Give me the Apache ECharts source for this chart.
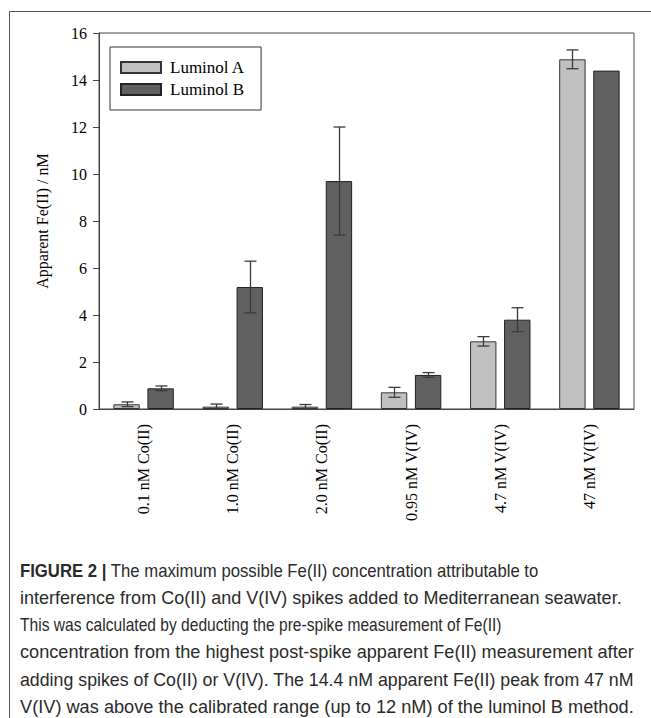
<!DOCTYPE html>
<html>
<head>
<meta charset="utf-8">
<style>
  html, body { margin: 0; padding: 0; background: #fff; }
  #chart { width: 651px; height: 718px; }
</style>
<script src="https://cdn.jsdelivr.net/npm/echarts@6/dist/echarts.min.js"></script>
</head>
<body>
<div id="chart"></div>
<script>
const categories = ['0.1 nM Co(II)', '1.0 nM Co(II)', '2.0 nM Co(II)', '0.95 nM V(IV)', '4.7 nM V(IV)', '47 nM V(IV)'];
const seriesNames = ['Luminol A', 'Luminol B'];
const luminolA = [0.20, 0.10, 0.10, 0.71, 2.88, 14.88];
const luminolAErr = [0.10, 0.11, 0.09, 0.21, 0.20, 0.40];
const luminolB = [0.88, 5.19, 9.70, 1.45, 3.80, 14.4];
const luminolBErr = [0.10, 1.10, 2.30, 0.10, 0.51, 0];
const yTicks = { min: 0, max: 16, interval: 2 };
const yAxisName = 'Apparent Fe(II) / nM';
const captionLabel = 'FIGURE 2 |';
const captionLines = [
  'The maximum possible Fe(II) concentration attributable to',
  'interference from Co(II) and V(IV) spikes added to Mediterranean seawater.',
  'This was calculated by deducting the pre-spike measurement of Fe(II)',
  'concentration from the highest post-spike apparent Fe(II) measurement after',
  'adding spikes of Co(II) or V(IV). The 14.4 nM apparent Fe(II) peak from 47 nM',
  'V(IV) was above the calibrated range (up to 12 nM) of the luminol B method.'
];
// layout: right end (px) of each caption line as seen in the reference
const captionRight = [539, 622, 502, 634, 634, 634];

const BAR_FRAC = 0.296, GAP_FRAC = 0.29;
const serif = 'Liberation Serif';
const sans = 'Liberation Sans';

function errRender(sign) {
  return function (params, api) {
    const i = api.value(0), v = api.value(1), e = api.value(2);
    if (!e) return null;
    const catW = api.size([1, 0])[0];
    const bw = catW * BAR_FRAC;
    const off = sign * bw * (1 + GAP_FRAC) / 2;
    const top = api.coord([i, v + e]);
    const bot = api.coord([i, v - e]);
    const x = Math.round(top[0] + off) + 0.5;
    const cap = 6;
    const st = { stroke: '#3a3a3a', lineWidth: 1.3 };
    return {
      type: 'group',
      children: [
        { type: 'line', shape: { x1: x, y1: top[1], x2: x, y2: bot[1] }, style: st },
        { type: 'line', shape: { x1: x - cap, y1: top[1], x2: x + cap, y2: top[1] }, style: st },
        { type: 'line', shape: { x1: x - cap, y1: bot[1], x2: x + cap, y2: bot[1] }, style: st }
      ]
    };
  };
}

const chart = echarts.init(document.getElementById('chart'), null, { renderer: 'svg' });

const capFont = 17.5, capLeft = 20;
const ctx = document.createElement('canvas').getContext('2d');
function textW(t, bold) {
  ctx.font = (bold ? 'bold ' : '') + capFont + 'px "' + sans + '"';
  return ctx.measureText(t).width;
}
const captionGraphics = captionLines.map(function (line, k) {
  let w, text, rich;
  if (k === 0) {
    w = textW(captionLabel, true) + textW(' ' + line, false);
    text = '{b|' + captionLabel + '} ' + line;
    rich = { b: { fontWeight: 'bold', fontFamily: sans, fontSize: capFont, fill: '#2a2a2a' } };
  } else {
    w = textW(line, false);
    text = line;
  }
  const sx = (captionRight[k] - capLeft) / w;
  const st = { text: text, fontFamily: sans, fontSize: capFont, fill: '#2a2a2a' };
  if (rich) st.rich = rich;
  return { type: 'text', x: capLeft, y: 562 + 27.2 * k, scaleX: sx, style: st };
});

chart.setOption({
  animation: false,
  backgroundColor: '#fff',
  grid: { left: 99, top: 33, width: 535, height: 376, show: true, borderColor: '#444', borderWidth: 1 },
  legend: {
    data: seriesNames,
    orient: 'vertical',
    left: 110, top: 47,
    itemWidth: 40, itemHeight: 11, itemGap: 5,
    padding: [12, 16, 12, 10],
    borderColor: '#333', borderWidth: 1,
    icon: 'rect',
    textStyle: { fontFamily: serif, fontSize: 17, color: '#000', lineHeight: 16, padding: [0, 0, 0, 4] }
  },
  xAxis: {
    type: 'category',
    data: categories,
    axisLine: { lineStyle: { color: '#444' } },
    axisTick: { alignWithLabel: true, length: 6, lineStyle: { color: '#444' } },
    axisLabel: { rotate: 90, fontFamily: serif, fontSize: 16, color: '#000', margin: 15 }
  },
  yAxis: {
    type: 'value',
    min: yTicks.min, max: yTicks.max, interval: yTicks.interval,
    name: yAxisName, nameLocation: 'middle', nameGap: 49,
    nameTextStyle: { fontFamily: serif, fontSize: 16, color: '#000' },
    axisLine: { show: true, lineStyle: { color: '#444' } },
    axisTick: { show: true, length: 6, lineStyle: { color: '#444' } },
    axisLabel: { fontFamily: serif, fontSize: 16, color: '#000', margin: 12 },
    splitLine: { show: false }
  },
  series: [
    { name: seriesNames[0], type: 'bar', data: luminolA, barWidth: (BAR_FRAC * 100) + '%', barGap: (GAP_FRAC * 100) + '%',
      itemStyle: { color: '#c0c0c0', borderColor: '#333', borderWidth: 1 } },
    { name: seriesNames[1], type: 'bar', data: luminolB, barWidth: (BAR_FRAC * 100) + '%', barGap: (GAP_FRAC * 100) + '%',
      itemStyle: { color: '#606060', borderColor: '#222', borderWidth: 1 } },
    { type: 'custom', renderItem: errRender(-1), encode: { x: 0, y: 1 }, z: 5,
      data: categories.map((c, i) => [i, luminolA[i], luminolAErr[i]]) },
    { type: 'custom', renderItem: errRender(1), encode: { x: 0, y: 1 }, z: 5,
      data: categories.map((c, i) => [i, luminolB[i], luminolBErr[i]]) }
  ],
  graphic: [
    { type: 'rect', shape: { x: 9.5, y: 11.5, width: 800, height: 900 }, style: { fill: 'none', stroke: '#555', lineWidth: 1 }, silent: true }
  ].concat(captionGraphics)
});
</script>
</body>
</html>
